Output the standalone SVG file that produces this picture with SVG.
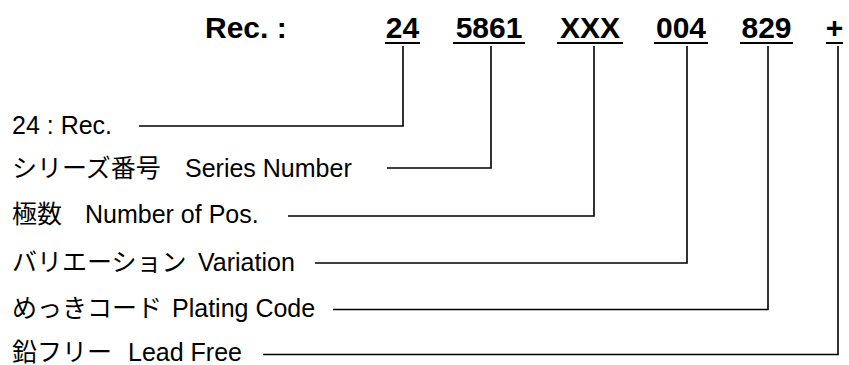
<svg xmlns="http://www.w3.org/2000/svg" width="849" height="365" viewBox="0 0 849 365">
<style>
.title{font-family:"Liberation Sans","Noto Sans CJK JP",sans-serif;font-weight:bold;font-size:30px;fill:#000}
.lbl{font-family:"Liberation Sans","Noto Sans CJK JP",sans-serif;font-size:25px;fill:#000}
.ul{fill:#000}
.conn{fill:none;stroke:#000;stroke-width:1.6}
</style>
<rect width="849" height="365" fill="#fff"/>
<g id="title">
<text class="title" x="205" y="38">Rec. :</text>
</g>
<g id="code-24"><text class="title" x="402.5" y="38" text-anchor="middle">24</text><rect class="ul" x="385" y="42" width="35" height="2"/></g>
<g id="code-5861"><text class="title" x="489" y="38" text-anchor="middle">5861</text><rect class="ul" x="453" y="42" width="72" height="2"/></g>
<g id="code-XXX"><text class="title" x="590" y="38" text-anchor="middle">XXX</text><rect class="ul" x="557" y="42" width="66" height="2"/></g>
<g id="code-004"><text class="title" x="681" y="38" text-anchor="middle">004</text><rect class="ul" x="654" y="42" width="54" height="2"/></g>
<g id="code-829"><text class="title" x="766.5" y="38" text-anchor="middle">829</text><rect class="ul" x="740" y="42" width="53" height="2"/></g>
<g id="code-plus"><text class="title" x="834.5" y="38" text-anchor="middle">+</text><rect class="ul" x="826" y="42" width="17" height="2"/></g>
<g id="label-rec"><text class="lbl" x="12" y="134">24 : Rec.</text></g>
<g id="label-series"><text class="lbl" x="12" y="177">シリーズ番号<tspan x="185">Series Number</tspan></text></g>
<g id="label-pos"><text class="lbl" x="12" y="223">極数<tspan x="85">Number of Pos.</tspan></text></g>
<g id="label-variation"><text class="lbl" x="12" y="271">バリエーション<tspan x="198">Variation</tspan></text></g>
<g id="label-plating"><text class="lbl" x="12" y="317">めっきコード<tspan x="172">Plating Code</tspan></text></g>
<g id="label-lead"><text class="lbl" x="12" y="361">鉛フリー<tspan x="128">Lead Free</tspan></text></g>
<g id="connectors">
<path class="conn" d="M139,126 H403 V46"/>
<path class="conn" d="M387,168 H491 V46"/>
<path class="conn" d="M288,216 H594 V46"/>
<path class="conn" d="M315,263 H687 V46"/>
<path class="conn" d="M333,309.5 H768 V46"/>
<path class="conn" d="M263,354.5 H838 V46"/>
</g>
</svg>
